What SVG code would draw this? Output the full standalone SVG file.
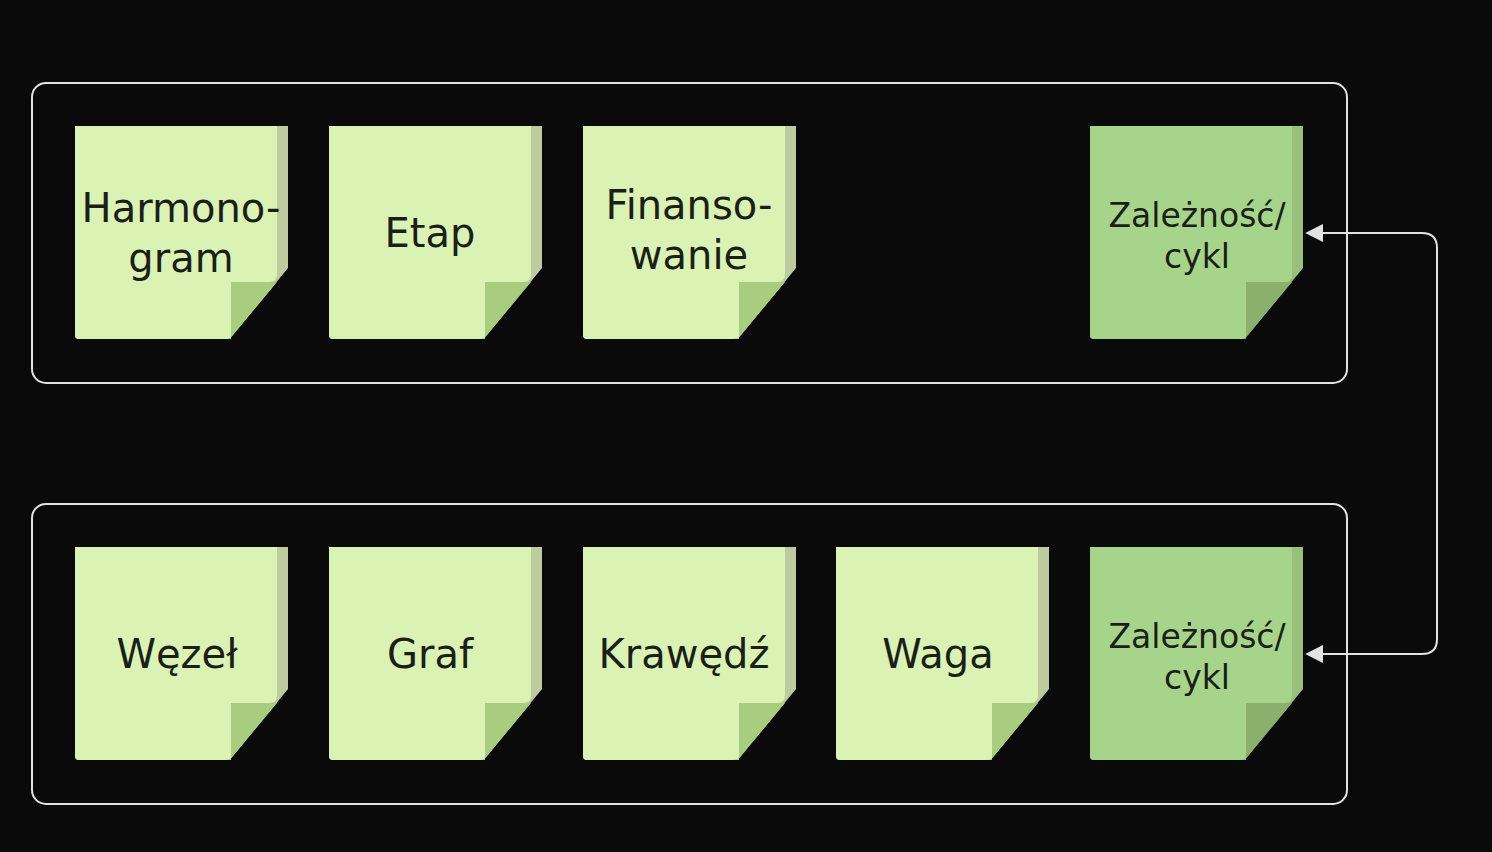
<svg xmlns="http://www.w3.org/2000/svg" width="1492" height="852" viewBox="0 0 1492 852">
<defs>
<style>
.frame{fill:none;stroke:#e2e2e2;stroke-width:2}
.sh{fill:#bdcb9e}.fc{fill:#daf2b4}.fd{fill:#a9cd7f}
.dsh{fill:#98bf7c}.dfc{fill:#a7d48b}.dfd{fill:#8bb06d}
.t{font-family:"DejaVu Sans",sans-serif;font-size:40px;fill:#1b1f17;text-anchor:middle}
.ts{font-family:"DejaVu Sans",sans-serif;font-size:33px;fill:#1b1f17;text-anchor:middle}
.con{fill:none;stroke:#e2e2e2;stroke-width:2}
</style>
<marker id="ah" viewBox="0 0 10 10" refX="9" refY="5" markerWidth="18" markerHeight="18" markerUnits="userSpaceOnUse" orient="auto-start-reverse">
<path d="M0,0 L10,5 L0,10 Z" fill="#e2e2e2"/>
</marker>
<g id="note">
<path class="sh" d="M0,0 H213 V142 L158,209 Q155,213 150,213 H4 Q0,213 0,209 Z"/>
<path class="fc" d="M0,0 H202 V148 Q202,156 194,156 H156 V213 H4 Q0,213 0,209 Z"/>
<path class="fd" d="M156,156 H202 L158,209 Q155,213 150,213 H156 Z"/>
</g>
<g id="dnote">
<path class="dsh" d="M0,0 H213 V142 L158,209 Q155,213 150,213 H4 Q0,213 0,209 Z"/>
<path class="dfc" d="M0,0 H202 V148 Q202,156 194,156 H156 V213 H4 Q0,213 0,209 Z"/>
<path class="dfd" d="M156,156 H202 L158,209 Q155,213 150,213 H156 Z"/>
</g>
</defs>
<rect width="1492" height="852" fill="#0a0a0a"/>
<g id="group-top"><rect class="frame" x="32" y="83" width="1315" height="300" rx="14"/></g>
<g id="group-bottom"><rect class="frame" x="32" y="504" width="1315" height="300" rx="14"/></g>

<g id="n-harmonogram"><use href="#note" x="75" y="126"/>
<text class="t" x="181" y="222">Harmono-</text><text class="t" x="181" y="272">gram</text></g>
<g id="n-etap"><use href="#note" x="329" y="126"/>
<text class="t" x="430" y="247">Etap</text></g>
<g id="n-finansowanie"><use href="#note" x="583" y="126"/>
<text class="t" x="689" y="219">Finanso-</text><text class="t" x="689" y="269">wanie</text></g>
<g id="n-zaleznosc-top"><use href="#dnote" x="1090" y="126"/>
<text class="ts" x="1197" y="227">Zależność/</text><text class="ts" x="1197" y="268">cykl</text></g>

<g id="n-wezel"><use href="#note" x="75" y="547"/>
<text class="t" x="177" y="668">Węzeł</text></g>
<g id="n-graf"><use href="#note" x="329" y="547"/>
<text class="t" x="430" y="668">Graf</text></g>
<g id="n-krawedz"><use href="#note" x="583" y="547"/>
<text class="t" x="684" y="668">Krawędź</text></g>
<g id="n-waga"><use href="#note" x="836" y="547"/>
<text class="t" x="938" y="668">Waga</text></g>
<g id="n-zaleznosc-bottom"><use href="#dnote" x="1090" y="547"/>
<text class="ts" x="1197" y="648">Zależność/</text><text class="ts" x="1197" y="689">cykl</text></g>

<g id="connectors">
<path class="con" d="M1307,654 H1422 Q1437,654 1437,639 V248 Q1437,233 1422,233 H1307" marker-start="url(#ah)" marker-end="url(#ah)"/>
</g>
</svg>
